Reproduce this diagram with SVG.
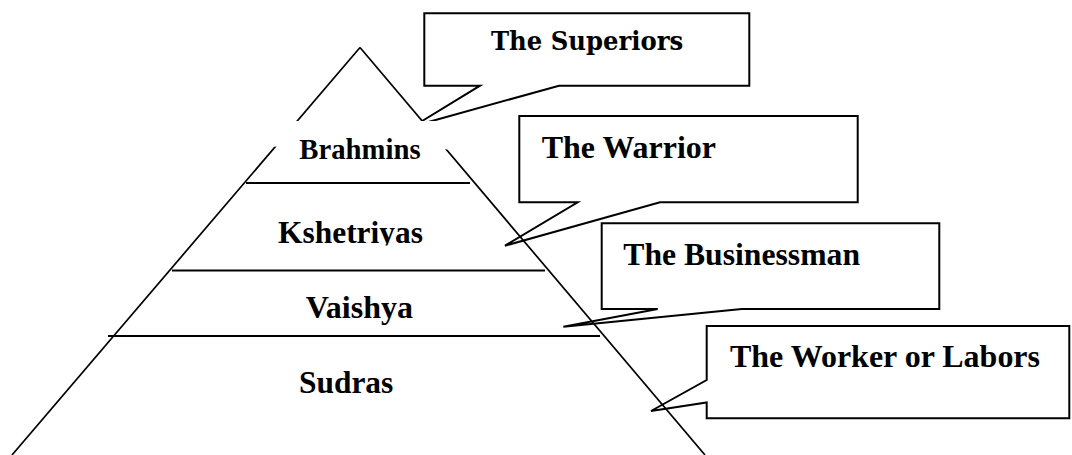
<svg xmlns="http://www.w3.org/2000/svg" width="1072" height="455" viewBox="0 0 1072 455">
<style>
.ln{stroke:#000;stroke-width:2;fill:none;stroke-linecap:butt}
.sl{stroke:#000;stroke-width:1.7;fill:none}
.co{stroke:#000;stroke-width:2;fill:none;stroke-linejoin:miter}
.t{font-family:"Liberation Serif","Times New Roman",serif;font-weight:bold;fill:#000}
.b{font-family:"DejaVu Serif","Bookman Old Style",serif;font-weight:bold;fill:#000}
</style>
<defs>
<clipPath id="kclip"><rect x="0" y="0" width="1072" height="245.5"/></clipPath>
</defs>
<rect width="1072" height="455" fill="#fff"/>
<g id="connectors">
<path id="c-superiors" class="co" d="M480,85.7 L424.3,85.7 L424.3,13.3 L749.3,13.3 L749.3,85.7 L559,85.7 L414,126 Z"/>
<path id="c-warrior" class="co" d="M577.7,202.3 L519.3,202.3 L519.3,116 L857.7,116 L857.7,202.3 L660,202.3 L505,245.7 Z"/>
<path id="c-business" class="co" d="M657.7,309 L601.7,309 L601.7,223.3 L939.3,223.3 L939.3,309 L741.7,309 L563.3,326.7 Z"/>
<path id="c-worker" class="co" d="M706.7,380 L706.7,326 L1069.3,326 L1069.3,418.3 L706.7,418.3 L706.7,402.5 L651,411 Z"/>
</g>
<g id="pyramid">
<line class="sl" x1="360" y1="47.5" x2="12" y2="455"/>
<line class="sl" x1="360" y1="47.5" x2="705" y2="455"/>
<line class="ln" x1="246" y1="183" x2="470" y2="183"/>
<line class="ln" x1="172" y1="270.5" x2="545" y2="270.5"/>
<line class="ln" x1="108" y1="336" x2="600" y2="336"/>
</g>
<g id="brahmins">
<polygon points="268,121 452,121 452,149.5 268,146.5" fill="#fff"/>
<text class="t" x="299.3" y="159.3" font-size="28.6" textLength="121.4" lengthAdjust="spacingAndGlyphs">Brahmins</text>
</g>
<g id="kshetriyas">
<text class="t" x="278" y="242.7" font-size="31.5" textLength="145" lengthAdjust="spacingAndGlyphs" clip-path="url(#kclip)">Kshetriyas</text>
</g>
<g id="vaishya">
<text class="t" x="305.7" y="318.3" font-size="31" textLength="107.3" lengthAdjust="spacingAndGlyphs">Vaishya</text>
</g>
<g id="sudras">
<text class="t" x="299" y="393.3" font-size="31.3" textLength="94.3" lengthAdjust="spacingAndGlyphs">Sudras</text>
</g>
<g id="superiors">
<text class="b" x="491" y="50" font-size="26" textLength="192.3" lengthAdjust="spacingAndGlyphs">The Superiors</text>
</g>
<g id="warrior">
<text class="t" x="541.7" y="158.3" font-size="31.5" textLength="174.3" lengthAdjust="spacingAndGlyphs">The Warrior</text>
</g>
<g id="businessman">
<text class="t" x="623.3" y="265" font-size="31.7" textLength="236.7" lengthAdjust="spacingAndGlyphs">The Businessman</text>
</g>
<g id="worker">
<text class="t" x="730" y="366.7" font-size="31.6" textLength="310" lengthAdjust="spacingAndGlyphs">The Worker or Labors</text>
</g>
</svg>
